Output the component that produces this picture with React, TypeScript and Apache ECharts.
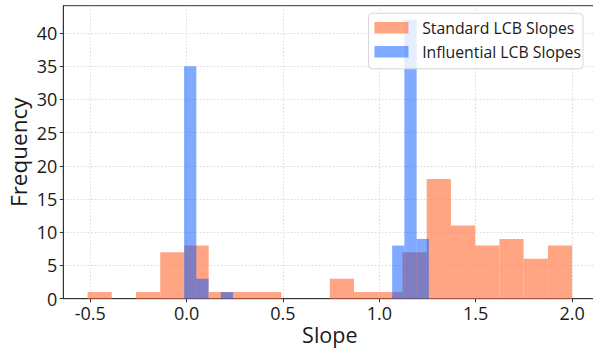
import React, { useEffect, useRef } from "react";
import * as echarts from "echarts";

// Histogram data
const orangeCounts = [1, 0, 1, 7, 8, 1, 1, 1, 0, 0, 3, 1, 1, 7, 18, 11, 8, 9, 6, 8];
const orangeRange = [-0.514, 2.0];
const blueCounts = [35, 3, 0, 1, 0, 0, 0, 0, 0, 0, 0, 0, 0, 0, 0, 0, 0, 8, 42, 9];
const blueRange = [-0.013, 1.257];
const xTicks = [-0.5, 0.0, 0.5, 1.0, 1.5, 2.0];
const yTicks = [0, 5, 10, 15, 20, 25, 30, 35, 40];
const seriesNames = ["Standard LCB Slopes", "Influential LCB Slopes"];

const ORANGE = "rgba(255,127,80,0.7)";
const BLUE = "rgba(0,85,255,0.5)";
const FONT = "Open Sans";

function bins(counts: number[], range: number[]) {
  const w = (range[1] - range[0]) / counts.length;
  return counts.map((c, i) => [range[0] + i * w, range[0] + (i + 1) * w, c]);
}

function histSeries(name: string, counts: number[], range: number[], color: string) {
  return {
    type: "custom",
    name,
    itemStyle: { color },
    encode: { x: [0, 1], y: 2 },
    data: bins(counts, range),
    renderItem: (params: any, api: any) => {
      const v = api.value(2);
      if (!v) return null;
      const p0 = api.coord([api.value(0), 0]);
      const p1 = api.coord([api.value(1), v]);
      return {
        type: "rect",
        shape: { x: p0[0], y: p1[1], width: p1[0] - p0[0], height: p0[1] - p1[1] },
        style: { fill: color },
      };
    },
  };
}

export default function App() {
  const ref = useRef<HTMLDivElement>(null);
  useEffect(() => {
    if (!ref.current) return;
    const chart = echarts.init(ref.current, null, { renderer: "svg" });
    const xMargin = (orangeRange[1] - orangeRange[0]) * 0.05;
    chart.setOption({
      animation: false,
      grid: {
        left: 63.3,
        top: 5.7,
        right: -3.3,
        bottom: 50.3,
        containLabel: false,
        outerBoundsMode: "none",
        show: true,
        borderColor: "#333",
        borderWidth: 1,
        backgroundColor: "transparent",
      },
      legend: {
        orient: "vertical",
        right: 10,
        top: 13.3,
        itemWidth: 34,
        itemHeight: 11.6,
        itemGap: 8,
        padding: [6.5, 2, 9, 6],
        backgroundColor: "rgba(255,255,255,0.8)",
        borderColor: "#d6d6d6",
        borderWidth: 1,
        borderRadius: 4,
        textStyle: {
          fontFamily: FONT,
          fontSize: 15.8,
          lineHeight: 16,
          color: "#1a1a1a",
          padding: [0, 0, 0, 8.7],
        },
        data: [
          { name: seriesNames[0], icon: "rect", itemStyle: { color: ORANGE } },
          { name: seriesNames[1], icon: "rect", itemStyle: { color: BLUE } },
        ],
      },
      xAxis: {
        type: "value",
        min: orangeRange[0] - xMargin,
        max: orangeRange[1] + xMargin,
        name: "Slope",
        nameLocation: "middle",
        nameGap: 25,
        nameMoveOverlap: false,
        nameTextStyle: { fontFamily: FONT, fontSize: 21.5, lineHeight: 22, color: "#1a1a1a" },
        axisLine: { show: true, onZero: false, lineStyle: { color: "#333", width: 1 } },
        axisTick: { show: true, length: 3.5, customValues: xTicks, lineStyle: { color: "#333" } },
        axisLabel: {
          customValues: xTicks,
          margin: 5,
          fontFamily: FONT,
          fontSize: 18,
          color: "#1a1a1a",
          formatter: (v: number) => v.toFixed(1),
        },
        splitLine: { show: true, lineStyle: { color: "#cfcfcf", width: 0.8, type: [1.5, 2] } },
      },
      yAxis: {
        type: "value",
        min: 0,
        max: 44.1,
        name: "Frequency",
        nameLocation: "middle",
        nameGap: 33,
        nameMoveOverlap: false,
        nameTextStyle: { fontFamily: FONT, fontSize: 22.5, color: "#1a1a1a" },
        axisLine: { show: true, onZero: false, lineStyle: { color: "#333", width: 1 } },
        axisTick: { show: true, length: 3.5, customValues: yTicks, lineStyle: { color: "#333" } },
        axisLabel: { customValues: yTicks, margin: 6, fontFamily: FONT, fontSize: 18, color: "#1a1a1a" },
        splitLine: { show: true, lineStyle: { color: "#cfcfcf", width: 0.8, type: [1.5, 2] } },
      },
      series: [
        histSeries(seriesNames[0], orangeCounts, orangeRange, ORANGE),
        histSeries(seriesNames[1], blueCounts, blueRange, BLUE),
      ],
    });
    return () => chart.dispose();
  }, []);
  return <div ref={ref} style={{ width: 593, height: 349, position: "absolute", left: 0, top: 0 }} />;
}
